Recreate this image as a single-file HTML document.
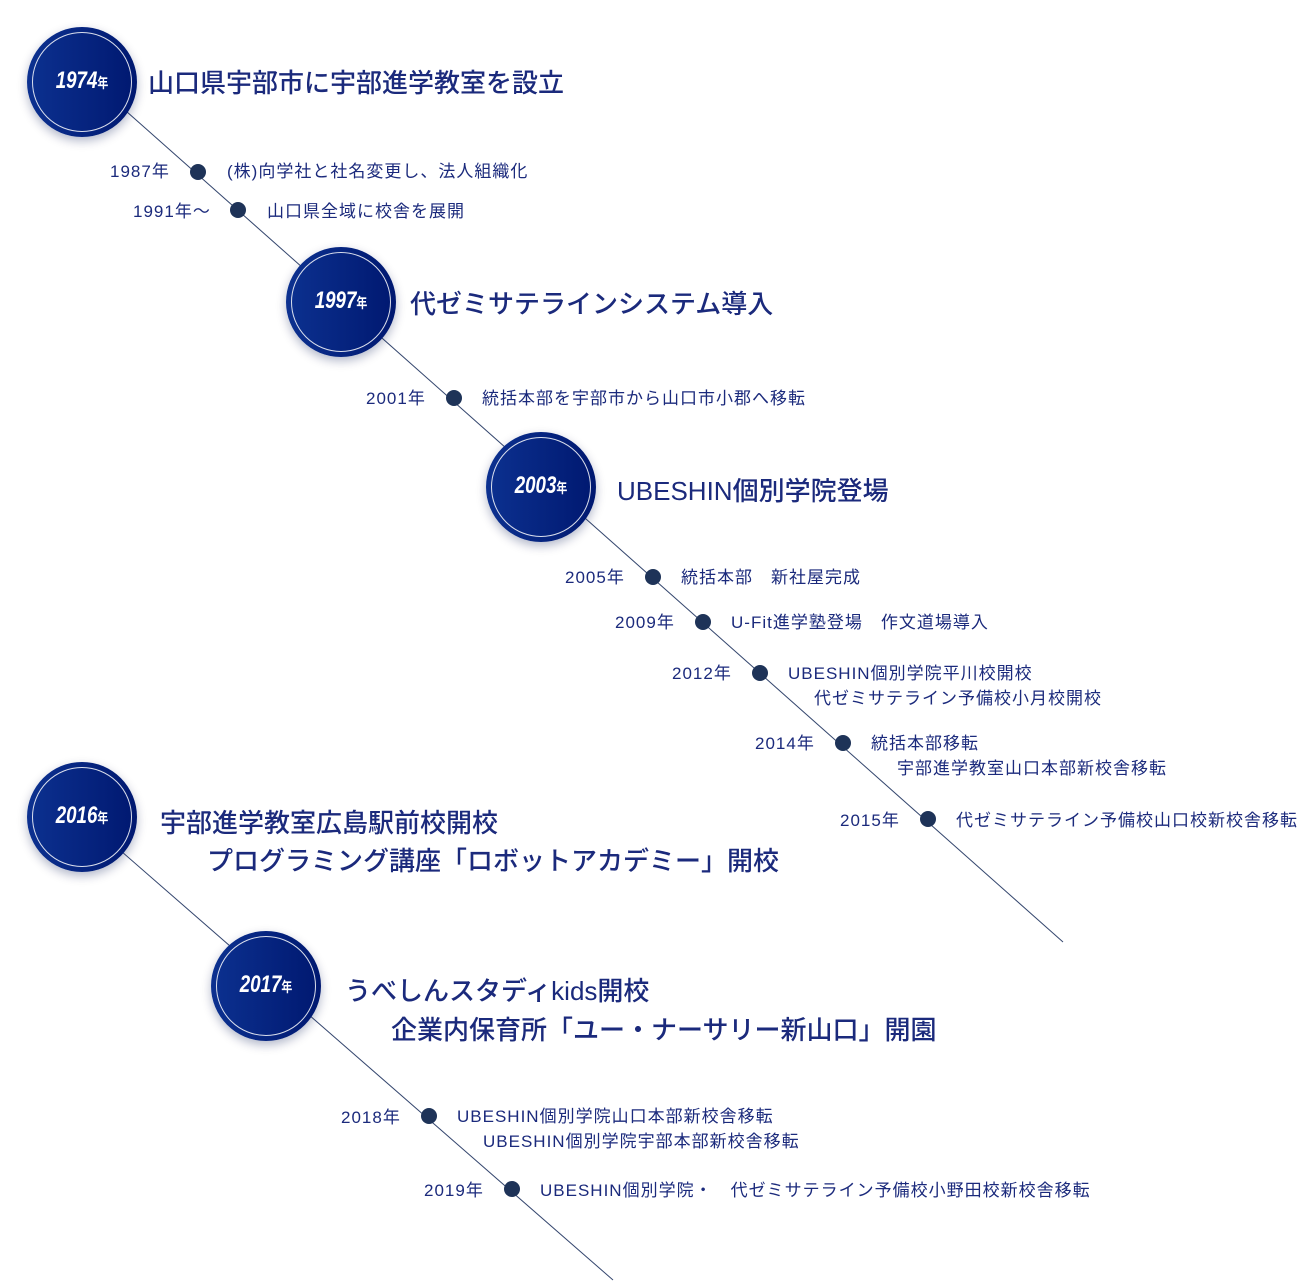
<!DOCTYPE html>
<html><head><meta charset="utf-8"><style>
body{margin:0;width:1298px;height:1282px;background:#fff;position:relative;overflow:hidden;font-family:"Liberation Sans","Noto Sans CJK JP",sans-serif;color:#1b2a7c}
.t{position:absolute;white-space:nowrap;line-height:24px;font-size:17px;letter-spacing:1px;margin-top:-12px}
.b{position:absolute;white-space:nowrap;line-height:34px;font-size:26px;margin-top:-17px;font-weight:500}
.c{position:absolute;width:110px;height:110px;margin:-55px 0 0 -55px;border-radius:50%;background:linear-gradient(90deg,#0c3190,#001870);box-shadow:0 4px 10px rgba(0,20,80,.3)}
.c::after{content:"";position:absolute;left:5px;top:5px;right:5px;bottom:5px;border:1px solid rgba(255,255,255,.85);border-radius:50%}
.c span{position:absolute;left:0;right:0;top:39px;text-align:center;color:#fff;font-style:italic;font-weight:bold;font-size:24px;line-height:30px;transform:scaleX(.78)}
.c small{font-size:14px;font-style:normal}
.d{position:absolute;width:16px;height:16px;margin:-8px 0 0 -8px;border-radius:50%;background:#1e3358}
</style></head><body>
<svg width="1298" height="1282" style="position:absolute;left:0;top:0">
<line x1="82" y1="72" x2="1063" y2="942" stroke="#34466e" stroke-width="1"/>
<line x1="82" y1="817" x2="613" y2="1280" stroke="#34466e" stroke-width="1"/>
</svg>
<div class="c" style="left:82px;top:82px"><span>1974<small>年</small></span></div>
<div class="c" style="left:341px;top:302px"><span>1997<small>年</small></span></div>
<div class="c" style="left:541px;top:487px"><span>2003<small>年</small></span></div>
<div class="c" style="left:82px;top:817px"><span>2016<small>年</small></span></div>
<div class="c" style="left:266px;top:986px"><span>2017<small>年</small></span></div>

<div class="d" style="left:198px;top:172px"></div>
<div class="d" style="left:238px;top:210px"></div>
<div class="d" style="left:454px;top:398px"></div>
<div class="d" style="left:653px;top:577px"></div>
<div class="d" style="left:703px;top:622px"></div>
<div class="d" style="left:760px;top:673px"></div>
<div class="d" style="left:843px;top:743px"></div>
<div class="d" style="left:928px;top:819px"></div>
<div class="d" style="left:429px;top:1116px"></div>
<div class="d" style="left:512px;top:1189px"></div>

<div class="b" style="left:148px;top:83px">山口県宇部市に宇部進学教室を設立</div>
<div class="b" style="left:410px;top:304px">代ゼミサテラインシステム導入</div>
<div class="b" style="left:617px;top:491px">UBESHIN個別学院登場</div>
<div class="b" style="left:160px;top:823px">宇部進学教室広島駅前校開校</div>
<div class="b" style="left:207px;top:861px">プログラミング講座「ロボットアカデミー」開校</div>
<div class="b" style="left:345px;top:991px">うべしんスタディkids開校</div>
<div class="b" style="left:391px;top:1030px">企業内保育所「ユー・ナーサリー新山口」開園</div>

<div class="t" style="left:110px;top:172px">1987年</div>
<div class="t" style="left:227px;top:172px">(株)向学社と社名変更し、法人組織化</div>
<div class="t" style="left:133px;top:212px">1991年～</div>
<div class="t" style="left:267px;top:212px">山口県全域に校舎を展開</div>
<div class="t" style="left:366px;top:399px">2001年</div>
<div class="t" style="left:482px;top:399px">統括本部を宇部市から山口市小郡へ移転</div>
<div class="t" style="left:565px;top:578px">2005年</div>
<div class="t" style="left:681px;top:578px">統括本部　新社屋完成</div>
<div class="t" style="left:615px;top:623px">2009年</div>
<div class="t" style="left:731px;top:623px">U-Fit進学塾登場　作文道場導入</div>
<div class="t" style="left:672px;top:674px">2012年</div>
<div class="t" style="left:788px;top:674px">UBESHIN個別学院平川校開校</div>
<div class="t" style="left:814px;top:699px">代ゼミサテライン予備校小月校開校</div>
<div class="t" style="left:755px;top:744px">2014年</div>
<div class="t" style="left:871px;top:744px">統括本部移転</div>
<div class="t" style="left:897px;top:769px">宇部進学教室山口本部新校舎移転</div>
<div class="t" style="left:840px;top:821px">2015年</div>
<div class="t" style="left:956px;top:821px">代ゼミサテライン予備校山口校新校舎移転</div>
<div class="t" style="left:341px;top:1118px">2018年</div>
<div class="t" style="left:457px;top:1117px">UBESHIN個別学院山口本部新校舎移転</div>
<div class="t" style="left:483px;top:1142px">UBESHIN個別学院宇部本部新校舎移転</div>
<div class="t" style="left:424px;top:1191px">2019年</div>
<div class="t" style="left:540px;top:1191px">UBESHIN個別学院・　代ゼミサテライン予備校小野田校新校舎移転</div>
</body></html>
